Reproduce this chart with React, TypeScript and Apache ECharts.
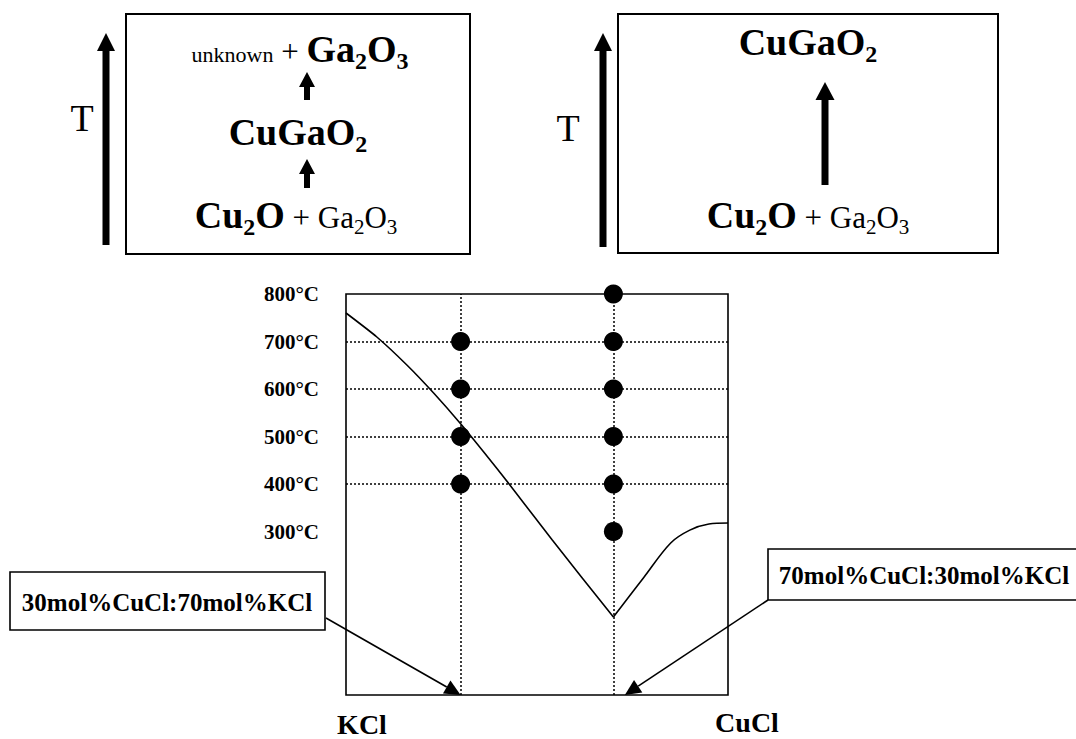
import React, { useEffect, useRef } from "react";
import * as echarts from "echarts";

// Temperature axis (°C)
const tempTicks = [300, 400, 500, 600, 700, 800];
const isotherms = [400, 500, 600, 700];
const tempMin = -44;
const tempMax = 800;

// Composition axis: mol% CuCl (0 = KCl, 100 = CuCl)
const sampleCompositions = [30, 70];

// Liquidus, KCl-rich branch down to the eutectic, then the CuCl-rich branch
const liquidusKCl: [number, number][] = [
  [0, 760], [8, 710], [16, 650], [23, 591], [30, 527],
  [36, 468], [43, 397], [54, 282], [70, 120],
];
const liquidusCuCl: [number, number][] = [
  [70, 120], [78, 204], [85, 276], [90, 303], [95, 316], [100, 318],
];

// Synthesis temperatures tried for each melt
const samples30 = [700, 600, 500, 400];
const samples70 = [800, 700, 600, 500, 400, 300];

// Callout labels and the compositions they point at
const calloutLabels = ["30mol%CuCl:70mol%KCl", "70mol%CuCl:30mol%KCl"];
const calloutTargets = [30, 73];

const FONT = '"Liberation Serif", "Times New Roman", "DejaVu Serif", serif';

// Common baseline of a formula line, measured from the top of the line box
const BASE = 34;

// Rich-text token: top-aligned, pushed down by padding so that its
// baseline lands `drop` px below the common baseline
function tok(fontSize: number, bold: boolean, drop: number) {
  const padTop = Math.max(0, BASE - 0.84 * fontSize + drop);
  return {
    fontSize,
    fontWeight: bold ? "bold" : "normal",
    fontFamily: FONT,
    color: "#000",
    verticalAlign: "top",
    padding: [padTop, 0, 0, 0],
  };
}

const rich = {
  B: tok(38, true, 0),
  Bs: tok(24, true, 7),
  N: tok(31, false, 0),
  Ns: tok(21, false, 6),
  S: tok(22, false, 0),
};

function formula(x: number, baseline: number, text: string) {
  return {
    type: "text",
    x,
    y: baseline - BASE,
    style: { text, rich, fontFamily: FONT, align: "center", verticalAlign: "top" },
    z: 10,
  };
}

function upArrow(x: number, tipY: number, bottomY: number, headW: number, headH: number, shaftW: number) {
  return [
    {
      type: "rect",
      shape: { x: x - shaftW / 2, y: tipY + headH - 2, width: shaftW, height: bottomY - tipY - headH + 2 },
      style: { fill: "#000" },
      z: 10,
    },
    {
      type: "polygon",
      shape: { points: [[x, tipY], [x - headW / 2, tipY + headH], [x + headW / 2, tipY + headH]] },
      style: { fill: "#000" },
      z: 10,
    },
  ];
}

function leader(from: number[], tip: number[]) {
  const dx = tip[0] - from[0];
  const dy = tip[1] - from[1];
  const len = Math.sqrt(dx * dx + dy * dy);
  const ux = dx / len;
  const uy = dy / len;
  const L = 16;
  const W = 7.5;
  const bx = tip[0] - ux * L;
  const by = tip[1] - uy * L;
  return [
    {
      type: "line",
      shape: { x1: from[0], y1: from[1], x2: bx, y2: by },
      style: { stroke: "#000", lineWidth: 1.6 },
      z: 10,
    },
    {
      type: "polygon",
      shape: { points: [tip, [bx - uy * W, by + ux * W], [bx + uy * W, by - ux * W]] },
      style: { fill: "#000" },
      z: 11,
    },
  ];
}

export default function App() {
  const ref = useRef<HTMLDivElement>(null);

  useEffect(() => {
    if (!ref.current) return;
    const chart = echarts.init(ref.current, null, { renderer: "svg" });

    const dotted = { color: "#000", width: 1.5, type: [2, 2] as number[] };

    chart.setOption({
      animation: false,
      backgroundColor: "#fff",
      grid: {
        left: 346,
        top: 294,
        right: 348,
        bottom: 44,
        show: true,
        borderColor: "#000",
        borderWidth: 1.6,
        backgroundColor: "transparent",
      },
      xAxis: {
        type: "value",
        min: 0,
        max: 100,
        axisLine: { show: false },
        axisTick: { show: false },
        axisLabel: { show: false },
        splitLine: { show: false },
      },
      yAxis: {
        type: "value",
        min: tempMin,
        max: tempMax,
        axisLine: { show: false },
        axisTick: { show: false },
        splitLine: { show: false },
        axisLabel: {
          customValues: tempTicks,
          formatter: (v: number) => `${v}°C`,
          fontFamily: FONT,
          fontWeight: "bold",
          fontSize: 21,
          color: "#000",
          margin: 27,
        },
      },
      series: [
        {
          type: "line",
          data: [],
          silent: true,
          markLine: {
            silent: true,
            symbol: "none",
            label: { show: false },
            lineStyle: dotted,
            data: [
              ...isotherms.map((t) => ({ yAxis: t })),
              ...sampleCompositions.map((c) => ({ xAxis: c })),
            ],
          },
        },
        {
          type: "line",
          data: liquidusKCl,
          smooth: 0.2,
          symbol: "none",
          lineStyle: { color: "#000", width: 1.6 },
          z: 3,
        },
        {
          type: "line",
          data: liquidusCuCl,
          smooth: 0.35,
          symbol: "none",
          lineStyle: { color: "#000", width: 1.6 },
          z: 3,
        },
        {
          type: "scatter",
          data: [
            ...samples30.map((t) => [sampleCompositions[0], t]),
            ...samples70.map((t) => [sampleCompositions[1], t]),
          ],
          symbol: "circle",
          symbolSize: 19,
          itemStyle: { color: "#000", opacity: 1 },
          clip: false,
          z: 5,
        },
      ],
    });

    const tipL = chart.convertToPixel({ gridIndex: 0 }, [calloutTargets[0], tempMin]) as number[];
    const tipR = chart.convertToPixel({ gridIndex: 0 }, [calloutTargets[1], tempMin]) as number[];

    const graphic: any[] = [
      // reaction boxes
      { type: "rect", shape: { x: 126, y: 14, width: 344, height: 240 }, style: { fill: "none", stroke: "#000", lineWidth: 2 }, z: 10 },
      { type: "rect", shape: { x: 618, y: 14, width: 380, height: 239 }, style: { fill: "none", stroke: "#000", lineWidth: 2 }, z: 10 },
      ...upArrow(106, 33, 245, 18, 18, 7),
      ...upArrow(603, 33, 247, 18, 18, 7),
      { type: "text", x: 82, y: 118, style: { text: "T", font: `normal 38px ${FONT}`, fill: "#000", align: "center", verticalAlign: "middle" }, z: 10 },
      { type: "text", x: 568, y: 128, style: { text: "T", font: `normal 38px ${FONT}`, fill: "#000", align: "center", verticalAlign: "middle" }, z: 10 },
      formula(300, 62, "{S|unknown}{N| + }{B|Ga}{Bs|2}{B|O}{Bs|3}"),
      ...upArrow(307, 72, 100, 16, 15, 6),
      formula(298, 145, "{B|CuGaO}{Bs|2}"),
      ...upArrow(307, 159, 188, 16, 15, 6),
      formula(296, 228, "{B|Cu}{Bs|2}{B|O}{N| + }{N|Ga}{Ns|2}{N|O}{Ns|3}"),
      formula(808, 55, "{B|CuGaO}{Bs|2}"),
      ...upArrow(825, 82, 185, 19, 18, 7),
      formula(808, 228, "{B|Cu}{Bs|2}{B|O}{N| + }{N|Ga}{Ns|2}{N|O}{Ns|3}"),
      // end-member labels
      { type: "text", x: 362, y: 724, style: { text: "KCl", font: `bold 28px ${FONT}`, fill: "#000", align: "center", verticalAlign: "middle" }, z: 10 },
      { type: "text", x: 747, y: 722, style: { text: "CuCl", font: `bold 28px ${FONT}`, fill: "#000", align: "center", verticalAlign: "middle" }, z: 10 },
      // composition callouts
      { type: "rect", shape: { x: 10, y: 572, width: 315, height: 58 }, style: { fill: "#fff", stroke: "#000", lineWidth: 1.6 }, z: 10 },
      { type: "text", x: 167, y: 602, style: { text: calloutLabels[0], font: `bold 25px ${FONT}`, fill: "#000", align: "center", verticalAlign: "middle" }, z: 11 },
      ...leader([326, 618], tipL),
      { type: "rect", shape: { x: 768, y: 549, width: 312, height: 51 }, style: { fill: "#fff", stroke: "#000", lineWidth: 1.6 }, z: 10 },
      { type: "text", x: 924, y: 575, style: { text: calloutLabels[1], font: `bold 25px ${FONT}`, fill: "#000", align: "center", verticalAlign: "middle" }, z: 11 },
      ...leader([768, 600], tipR),
    ];

    chart.setOption({ graphic });

    return () => chart.dispose();
  }, []);

  return (
    <div
      ref={ref}
      style={{ position: "absolute", left: 0, top: 0, width: 1076, height: 739, background: "#fff" }}
    />
  );
}
